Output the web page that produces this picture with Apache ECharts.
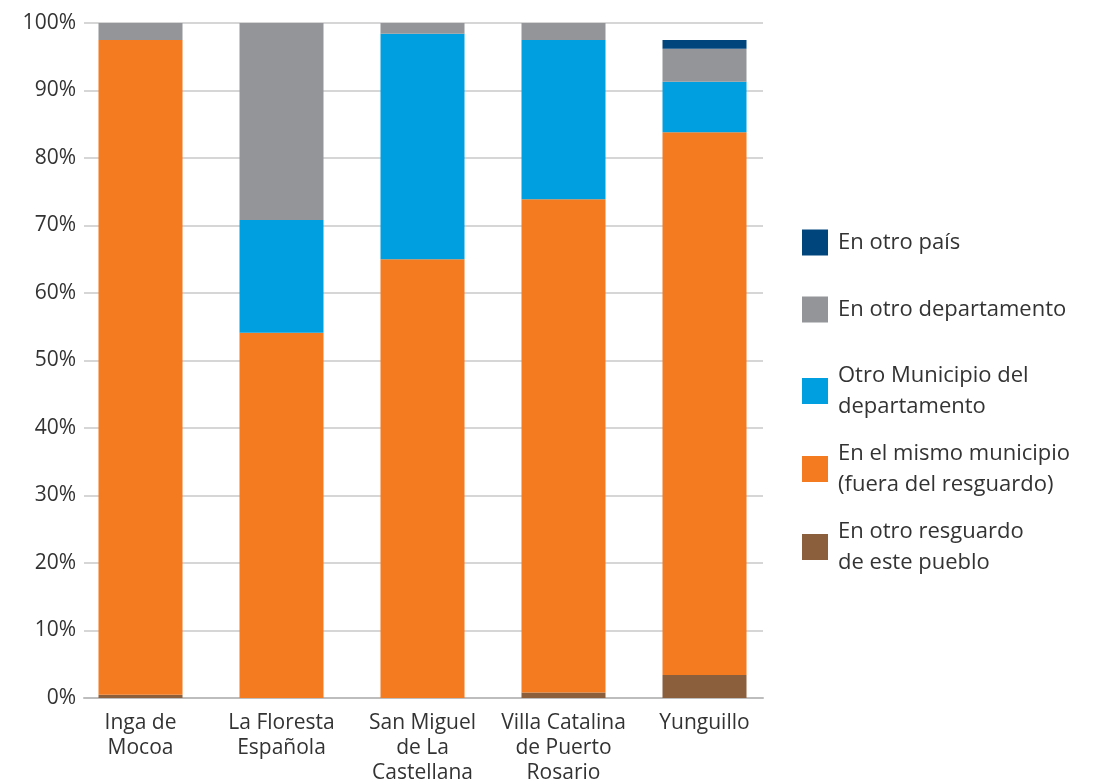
<!DOCTYPE html>
<html>
<head>
<meta charset="utf-8">
<script src="https://cdn.jsdelivr.net/npm/echarts@6/dist/echarts.min.js"></script>
<style>
  html, body { margin: 0; padding: 0; background: #fff; }
  #chart { width: 1093px; height: 783px; }
</style>
</head>
<body>
<div id="chart"></div>
<script>
const categories = ['Inga de\nMocoa', 'La Floresta\nEspañola', 'San Miguel\nde La\nCastellana', 'Villa Catalina\nde Puerto\nRosario', 'Yunguillo']
const yTicks = [0, 10, 20, 30, 40, 50, 60, 70, 80, 90, 100]

// porcentajes
const otroResguardo = [0.5, 0, 0, 0.8, 3.4]
const mismoMunicipio = [97.0, 54.1, 65.0, 73.1, 80.4]
const otroMunicipio = [0, 16.7, 33.4, 23.6, 7.5]
const otroDepartamento = [2.5, 29.2, 1.6, 2.5, 4.9]
const otroPais = [0, 0, 0, 0, 1.3]

const names = [
  'En otro resguardo\nde este pueblo',
  'En el mismo municipio\n(fuera del resguardo)',
  'Otro Municipio del\ndepartamento',
  'En otro departamento',
  'En otro país'
]
const colors = ['#8b5e3c', '#f47b20', '#009fdf', '#939598', '#00457c']
const values = [otroResguardo, mismoMunicipio, otroMunicipio, otroDepartamento, otroPais]

const font = 'Open Sans'
const textColor = '#333'

const chart = echarts.init(document.getElementById('chart'))

const series = names.map((name, i) => ({
  name: name,
  type: 'bar',
  stack: 'total',
  xAxisIndex: 1,
  yAxisIndex: 1,
  barWidth: 84,
  itemStyle: { color: colors[i] },
  data: values[i]
}))

// una leyenda por elemento, para controlar la posición vertical
const legendTops = [222, 289, 355, 433, 511]
const legendOrder = [4, 3, 2, 1, 0]
const legends = legendOrder.map((idx, k) => ({
  data: [names[idx]],
  left: 797,
  top: legendTops[k],
  orient: 'vertical',
  itemWidth: 26,
  itemHeight: 26,
  itemGap: 10,
  selectedMode: false,
  icon: 'rect',
  textStyle: {
    fontFamily: font,
    fontSize: 22,
    lineHeight: 31,
    color: textColor,
    padding: [0, 0, 0, 5]
  }
}))

const option = {
  animation: false,
  backgroundColor: '#fff',
  legend: legends,
  grid: [
    { left: 84, right: 330, top: 23, bottom: 85, outerBoundsMode: 'none' },
    { left: 70, right: 318, top: 23, bottom: 85, outerBoundsMode: 'none' }
  ],
  xAxis: [
    {
      type: 'category',
      gridIndex: 0,
      data: categories,
      axisLine: { show: true, lineStyle: { color: '#bdbdbd', width: 2 } },
      axisTick: { show: false },
      axisLabel: { show: false }
    },
    {
      type: 'category',
      gridIndex: 1,
      data: categories,
      axisLine: { show: false },
      axisTick: { show: false },
      axisLabel: {
        fontFamily: font,
        fontSize: 21,
        lineHeight: 25,
        color: textColor,
        margin: 13,
        interval: 0
      }
    }
  ],
  yAxis: [
    {
      type: 'value',
      gridIndex: 0,
      min: yTicks[0],
      max: yTicks[yTicks.length - 1],
      interval: 10,
      axisLine: { show: false },
      axisTick: { show: false },
      splitLine: { lineStyle: { color: '#c8c8c8', width: 1.5 } },
      axisLabel: {
        fontFamily: font,
        fontSize: 21,
        color: textColor,
        margin: 8,
        formatter: '{value}%'
      }
    },
    {
      type: 'value',
      gridIndex: 1,
      min: 0,
      max: 100,
      interval: 10,
      axisLine: { show: false },
      axisTick: { show: false },
      axisLabel: { show: false },
      splitLine: { show: false }
    }
  ],
  series: series
}

chart.setOption(option)
</script>
</body>
</html>
